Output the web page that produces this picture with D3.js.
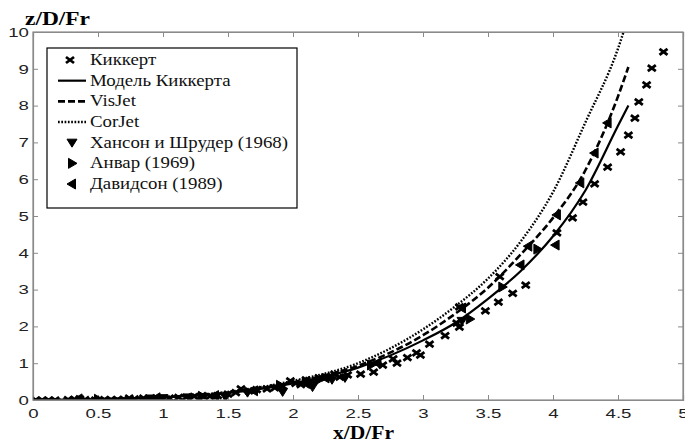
<!DOCTYPE html>
<html><head><meta charset="utf-8">
<script src="https://cdn.jsdelivr.net/npm/d3@7"></script>
<style>body{margin:0;background:#fff}</style>
</head><body><svg id="c" width="685" height="442"></svg>
<script>
// ---------- data ----------
const xTicks = [0, 0.5, 1, 1.5, 2, 2.5, 3, 3.5, 4, 4.5, 5];
const yTicks = [0, 1, 2, 3, 4, 5, 6, 7, 8, 9, 10];
const xTitle = "x/D/Fr";
const yTitle = "z/D/Fr";
const legendLabels = ["Киккерт", "Модель Киккерта", "VisJet", "CorJet",
  "Хансон и Шрудер (1968)", "Анвар (1969)", "Давидсон (1989)"];

const modelX  = [0, 0.5, 1, 1.5, 2, 2.5, 3, 3.25, 3.5, 3.75, 4, 4.25, 4.5, 4.58];
const modelZ  = [0, 0.02, 0.07, 0.19, 0.45, 0.88, 1.62, 2.1, 2.75, 3.5, 4.45, 5.7, 7.45, 8.0];
const visJetX = [0, 0.5, 1, 1.5, 2, 2.5, 3, 3.25, 3.5, 3.75, 4, 4.25, 4.5, 4.58];
const visJetZ = [0, 0.02, 0.075, 0.2, 0.48, 0.93, 1.76, 2.35, 3.05, 3.95, 4.95, 6.25, 8.25, 9.05];
const corJetX = [0, 0.5, 1, 1.5, 2, 2.5, 3, 3.25, 3.5, 3.75, 4, 4.25, 4.5, 4.57];
const corJetZ = [0, 0.025, 0.08, 0.22, 0.52, 1.0, 1.92, 2.55, 3.3, 4.3, 5.65, 7.55, 9.55, 10.3];

const kikkertX = [0.02,0.07,0.12,0.17,0.27,0.32,0.36,0.40,0.48,0.55,0.60,0.65,0.70,0.74,0.78,0.85,0.90,0.95,
  1.05,1.12,1.18,1.24,1.30,1.36,1.42,1.50,1.56,1.60,1.66,1.72,1.80,1.86,1.92,1.98,2.02,2.06,2.10,2.15,2.20,
  2.26,2.32,2.36,2.42,2.52,2.62,2.69,2.77,2.80,2.88,2.95,2.98,3.05,3.17,3.26,3.28,3.28,3.48,3.58,3.59,3.69,3.79,
  4.03,4.15,4.23,4.32,4.42,4.52,4.58,4.63,4.66,4.72,4.76,4.85];
const kikkertZ = [0.0,0.0,0.0,0.0,0.01,0.02,0.03,0.01,0.0,0.01,0.01,0.01,0.02,0.05,0.03,0.05,0.02,0.06,
  0.05,0.07,0.08,0.10,0.12,0.10,0.12,0.16,0.20,0.30,0.25,0.28,0.30,0.33,0.38,0.52,0.45,0.42,0.55,0.50,0.60,
  0.62,0.70,0.62,0.68,0.70,0.76,0.95,1.12,1.00,1.15,1.28,1.22,1.52,1.75,2.09,1.98,2.53,2.42,2.66,3.35,2.90,3.12,
  4.54,4.95,5.38,5.87,6.33,6.74,7.20,7.66,8.10,8.56,9.02,9.46];

const hansonX = [0.9, 1.0, 1.2, 1.48, 1.65, 1.92, 2.15, 2.3, 2.4, 3.3];
const hansonZ = [0.04, 0.05, 0.07, 0.08, 0.2, 0.22, 0.35, 0.55, 0.6, 2.15];

const anwarX = [0.5, 1.3, 1.9, 2.2, 2.6, 3.36, 3.61, 3.88];
const anwarZ = [0.02, 0.1, 0.4, 0.55, 0.95, 2.2, 3.07, 4.1];

const davidsonX = [0.35, 0.95, 1.4, 1.7, 2.1, 2.25, 2.65, 3.3, 3.75, 3.81, 4.02, 4.03, 4.21, 4.32, 4.42];
const davidsonZ = [0.03, 0.06, 0.12, 0.25, 0.45, 0.6, 1.0, 2.5, 3.67, 4.18, 4.21, 5.03, 5.9, 6.71, 7.53];

// ---------- layout ----------
const svg = d3.select("#c");
const L = 33, R = 683, T = 32, B = 400;
const x = d3.scaleLinear().domain([0, 5]).range([L, R]);
const y = d3.scaleLinear().domain([0, 10]).range([B, T]);
const SX = 1.38; // horizontal stretch of text in the original
const axisColor = "#8a8a8a";
const sans = "'Liberation Sans', Arial, sans-serif";
const serif = "'Liberation Serif', 'Times New Roman', serif";

svg.append("rect").attr("width", 685).attr("height", 442).attr("fill", "#fff");

function styleAxis(g) {
  g.selectAll("path.domain").attr("stroke", axisColor).attr("stroke-width", 1.2);
  g.selectAll(".tick line").attr("stroke", axisColor).attr("stroke-width", 1);
  g.selectAll(".tick text").attr("fill", "#222").attr("font-family", sans).attr("font-size", 13.5);
}
const gB = svg.append("g").attr("transform", `translate(0,${B})`)
  .call(d3.axisBottom(x).tickValues(xTicks).tickSize(-5).tickPadding(8).tickFormat(d => String(d)));
gB.call(styleAxis);
gB.selectAll(".tick text").attr("transform", `scale(${SX},1)`);
const gT = svg.append("g").attr("transform", `translate(0,${T})`)
  .call(d3.axisTop(x).tickValues(xTicks).tickSize(-5).tickFormat(""));
gT.call(styleAxis);
const gL = svg.append("g").attr("transform", `translate(${L},0)`)
  .call(d3.axisLeft(y).tickValues(yTicks).tickSize(-5).tickPadding(3).tickFormat(d => String(d)));
gL.call(styleAxis);
gL.selectAll(".tick text").attr("transform", `scale(${SX},1)`);
const gR = svg.append("g").attr("transform", `translate(${R},0)`)
  .call(d3.axisRight(y).tickValues(yTicks).tickSize(-5).tickFormat(""));
gR.call(styleAxis);

// titles
svg.append("text").attr("x", 25).attr("y", 25).text(yTitle)
  .attr("font-family", serif).attr("font-weight", "bold").attr("font-size", 18)
  .attr("textLength", 65).attr("lengthAdjust", "spacingAndGlyphs");
svg.append("text").attr("x", 333).attr("y", 439).text(xTitle)
  .attr("font-family", serif).attr("font-weight", "bold").attr("font-size", 19)
  .attr("textLength", 61).attr("lengthAdjust", "spacingAndGlyphs");

// clip
svg.append("clipPath").attr("id", "clip").append("rect")
  .attr("x", L).attr("y", T).attr("width", R - L).attr("height", B - T);
const plot = svg.append("g").attr("clip-path", "url(#clip)");

const line = d3.line().x(d => x(d[0])).y(d => y(d[1])).curve(d3.curveMonotoneX);
const curves = [
  {xs: modelX, zs: modelZ, dash: null, w: 2.2},
  {xs: visJetX, zs: visJetZ, dash: "7,3", w: 2.6},
  {xs: corJetX, zs: corJetZ, dash: "1.7,1.6", w: 2.4}
];
curves.forEach(c => {
  plot.append("path").datum(d3.zip(c.xs, c.zs)).attr("d", line)
    .attr("fill", "none").attr("stroke", "#000").attr("stroke-width", c.w)
    .attr("stroke-dasharray", c.dash);
});

// marker shapes (centered at 0,0)
const markerPath = {
  cross: "M-4,-3L4,3M-4,3L4,-3",
  down: "M-5,-3.5L5,-3.5L0,4.5Z",
  right: "M-3.5,-5L5,0L-3.5,5Z",
  left: "M3.5,-5L-5,0L3.5,5Z"
};
function drawMarkers(g, xs, zs, type) {
  const pts = d3.zip(xs, zs);
  const sel = g.selectAll(null).data(pts).enter().append("path")
    .attr("transform", d => `translate(${x(d[0])},${y(d[1])})`)
    .attr("d", markerPath[type]);
  if (type === "cross") sel.attr("fill", "none").attr("stroke", "#000").attr("stroke-width", 2.8);
  else sel.attr("fill", "#000").attr("stroke", "#000").attr("stroke-width", 1);
}
drawMarkers(plot, hansonX, hansonZ, "down");
drawMarkers(plot, anwarX, anwarZ, "right");
drawMarkers(plot, davidsonX, davidsonZ, "left");
drawMarkers(plot, kikkertX, kikkertZ, "cross");

// frame
svg.append("rect").attr("x", L).attr("y", T).attr("width", R - L).attr("height", B - T)
  .attr("fill", "none").attr("stroke", axisColor).attr("stroke-width", 1.2);

// legend
const lg = svg.append("g");
lg.append("rect").attr("x", 47).attr("y", 48).attr("width", 250).attr("height", 160)
  .attr("fill", "#fff").attr("stroke", "#000").attr("stroke-width", 1.2);
const rowY = i => 60 + i * 20.67;
const kinds = ["cross", "solid", "dash", "dot", "down", "right", "left"];
kinds.forEach((k, i) => {
  const cy = rowY(i);
  if (k === "solid" || k === "dash" || k === "dot") {
    lg.append("line").attr("x1", 58).attr("x2", 86).attr("y1", cy).attr("y2", cy)
      .attr("stroke", "#000").attr("stroke-width", k === "solid" ? 2.2 : 2.6)
      .attr("stroke-dasharray", k === "dash" ? "7,3" : k === "dot" ? "1.7,1.6" : null);
  } else {
    const p = lg.append("path").attr("transform", `translate(${k === "cross" ? 70 : 72},${cy})`)
      .attr("d", markerPath[k]);
    if (k === "cross") p.attr("fill", "none").attr("stroke", "#000").attr("stroke-width", 2.8);
    else p.attr("fill", "#000").attr("stroke", "#000").attr("stroke-width", 1);
  }
});
const texts = lg.selectAll("text.lab").data(legendLabels).enter().append("text")
  .attr("class", "lab").attr("x", 0).attr("y", 0)
  .attr("transform", (d, i) => `translate(90,${rowY(i) + 5})`)
  .attr("font-family", serif).attr("font-size", 16).attr("fill", "#111").text(d => d);
// fit stretch to the longest label's width in the original (≈198px)
let natural = 0;
texts.each(function () { natural = Math.max(natural, this.getComputedTextLength()); });
const k = natural > 0 ? 198 / natural : SX;
texts.attr("transform", (d, i) => `translate(90,${rowY(i) + 5}) scale(${k},1)`);
</script></body></html>
